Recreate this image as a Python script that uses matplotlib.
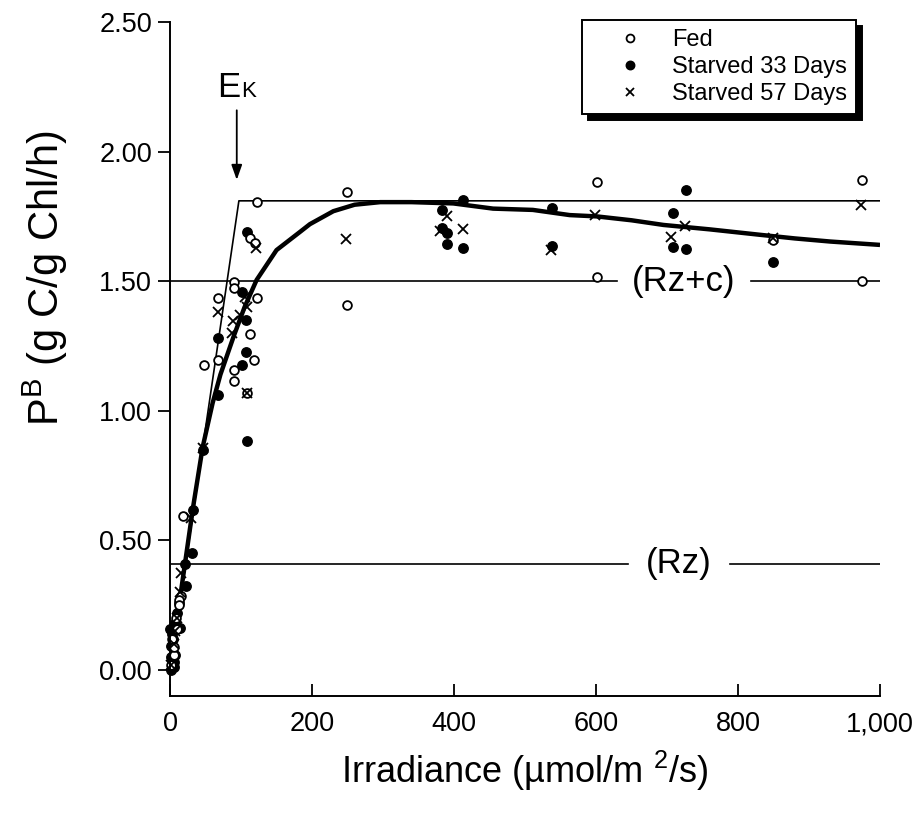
import matplotlib
matplotlib.use("Agg")
import matplotlib.pyplot as plt
from matplotlib.ticker import FuncFormatter, FixedLocator

plt.rcParams["font.family"] = ["Liberation Sans", "DejaVu Sans"]
plt.rcParams["mathtext.default"] = "regular"

fed_x = [123, 113, 119, 90, 90, 123, 68, 113, 68, 118, 48, 90, 90, 109,
         18, 16, 12, 13, 3, 5, 8, 2, 10, 6,
         249, 249, 601, 601, 849, 974, 974]
fed_y = [1.805, 1.666, 1.647, 1.497, 1.473, 1.435, 1.435, 1.297, 1.197, 1.197, 1.175, 1.159, 1.114, 1.069,
         0.593, 0.285, 0.272, 0.25, 0.12, 0.06, 0.20, 0.02, 0.16, 0.09,
         1.843, 1.409, 1.882, 1.518, 1.660, 1.891, 1.502]

s33_x = [109, 101, 107, 68, 107, 101, 68, 109, 47, 32, 31, 21, 23, 7, 14, 0, 2, 7, 5, 2, 4, 10,
         1, 3, 6, 12,
         383, 383, 390, 390, 412, 412, 538, 538, 727, 708, 708, 727, 849]
s33_y = [1.690, 1.457, 1.351, 1.281, 1.225, 1.175, 1.062, 0.885, 0.850, 0.619, 0.452, 0.410, 0.324,
         0.180, 0.163, 0.157, 0.093, 0.060, 0.030, 0.0, 0.12, 0.22,
         0.05, 0.14, 0.01, 0.26,
         1.775, 1.707, 1.685, 1.644, 1.814, 1.630, 1.784, 1.634, 1.850, 1.762, 1.631, 1.625, 1.576]

s57_x = [121, 109, 106, 68, 89, 99, 87, 109, 47, 30, 16, 5, 10, 2, 14, 7,
         248, 390, 380, 412, 536, 599, 725, 706, 849, 973]
s57_y = [1.628, 1.400, 1.441, 1.383, 1.345, 1.371, 1.300, 1.069, 0.857, 0.587, 0.375, 0.10, 0.20, 0.02,
         0.30, 0.15,
         1.664, 1.753, 1.694, 1.702, 1.621, 1.756, 1.714, 1.672, 1.665, 1.795]

# fitted P-I curve
curve_x = [0, 10, 20, 32, 46, 60, 71, 90, 105, 122, 150, 183, 197, 230, 260, 296, 340, 399,
           455, 511, 563, 601, 650, 695, 760, 831, 880, 930, 1000]
curve_y = [0.0, 0.20, 0.39, 0.62, 0.86, 1.03, 1.14, 1.29, 1.40, 1.505, 1.62, 1.69, 1.72, 1.77,
           1.795, 1.805, 1.805, 1.80, 1.78, 1.775, 1.755, 1.75, 1.735, 1.717, 1.70, 1.679,
           1.665, 1.653, 1.64]

ek = 97
pmax = 1.81
rz_c = 1.50
rz = 0.41
rz_c_gap = (630, 818)
rz_gap = (645, 789)

fig = plt.figure(figsize=(9.21, 8.13), dpi=100)
ax = fig.add_axes([0.1846, 0.1439, 0.7709, 0.8291])

ax.plot([0, ek, 1000], [0, pmax, pmax], color="black", lw=1.2)
ax.plot([0, rz_c_gap[0]], [rz_c, rz_c], color="black", lw=1.2)
ax.plot([rz_c_gap[1], 1000], [rz_c, rz_c], color="black", lw=1.2)
ax.plot([0, rz_gap[0]], [rz, rz], color="black", lw=1.2)
ax.plot([rz_gap[1], 1000], [rz, rz], color="black", lw=1.2)
ax.text(sum(rz_c_gap) / 2, rz_c, "(Rz+c)", fontsize=25, ha="center", va="center")
ax.text(sum(rz_gap) / 2, rz, "(Rz)", fontsize=25, ha="center", va="center")

ax.plot(curve_x, curve_y, color="black", lw=3.2, solid_capstyle="butt")

ax.plot(s33_x, s33_y, "o", ls="none", color="black", ms=6.8, clip_on=False, label="Starved 33 Days")
ax.plot(fed_x, fed_y, "o", ls="none", mfc="white", mec="black", mew=1.3, ms=6.3, clip_on=False, label="Fed")
ax.plot(s57_x, s57_y, "x", ls="none", color="black", mew=1.3, ms=7, clip_on=False, label="Starved 57 Days")

ax.annotate("", xy=(ek - 3, 1.88), xytext=(ek - 3, 2.17),
            arrowprops=dict(arrowstyle="-|>,head_length=0.9,head_width=0.32", color="black", lw=1.3))
ax.text(67, 2.21, "E", fontsize=25, ha="left", va="baseline")
ax.text(100, 2.21, "K", fontsize=16, ha="left", va="baseline")

ax.set_xlim(0, 1000)
ax.set_ylim(-0.1, 2.5)
ax.spines["top"].set_visible(False)
ax.spines["right"].set_visible(False)
ax.spines["left"].set_linewidth(1.4)
ax.spines["bottom"].set_linewidth(1.4)
ax.spines["left"].set_bounds(-0.1, 2.5)

ax.xaxis.set_major_locator(FixedLocator([0, 200, 400, 600, 800, 1000]))
ax.yaxis.set_major_locator(FixedLocator([0, 0.5, 1.0, 1.5, 2.0, 2.5]))
ax.xaxis.set_major_formatter(FuncFormatter(lambda v, p: f"{v:,.0f}"))
ax.yaxis.set_major_formatter(FuncFormatter(lambda v, p: f"{v:.2f}"))
ax.tick_params(axis="x", direction="in", length=9, width=1.3, pad=11, labelsize=19.5)
ax.tick_params(axis="y", direction="out", length=9, width=1.3, pad=4, labelsize=19.5)

ax.set_xlabel("Irradiance (µmol/m $^{2}$/s)", fontsize=26, labelpad=8)
fig.text(0.049, 1 - 278 / 813, "P$^{B}$ (g C/g Chl/h)", fontsize=30, rotation=90,
         ha="center", va="center")

handles, labels = ax.get_legend_handles_labels()
order = [1, 0, 2]
leg = fig.legend([handles[i] for i in order], [labels[i] for i in order],
                 loc="upper left", bbox_to_anchor=(582 / 921, 1 - 20 / 813),
                 borderaxespad=0, fontsize=17, frameon=True, fancybox=False, framealpha=1,
                 edgecolor="black", borderpad=0.4, handlelength=3.3, handletextpad=0.1,
                 labelspacing=0.2, markerscale=0.9,
                 shadow={"ox": 4, "oy": -4, "facecolor": "black", "edgecolor": "black", "alpha": 1})
leg.get_frame().set_linewidth(1.4)

fig.savefig("out.png", dpi=100)
